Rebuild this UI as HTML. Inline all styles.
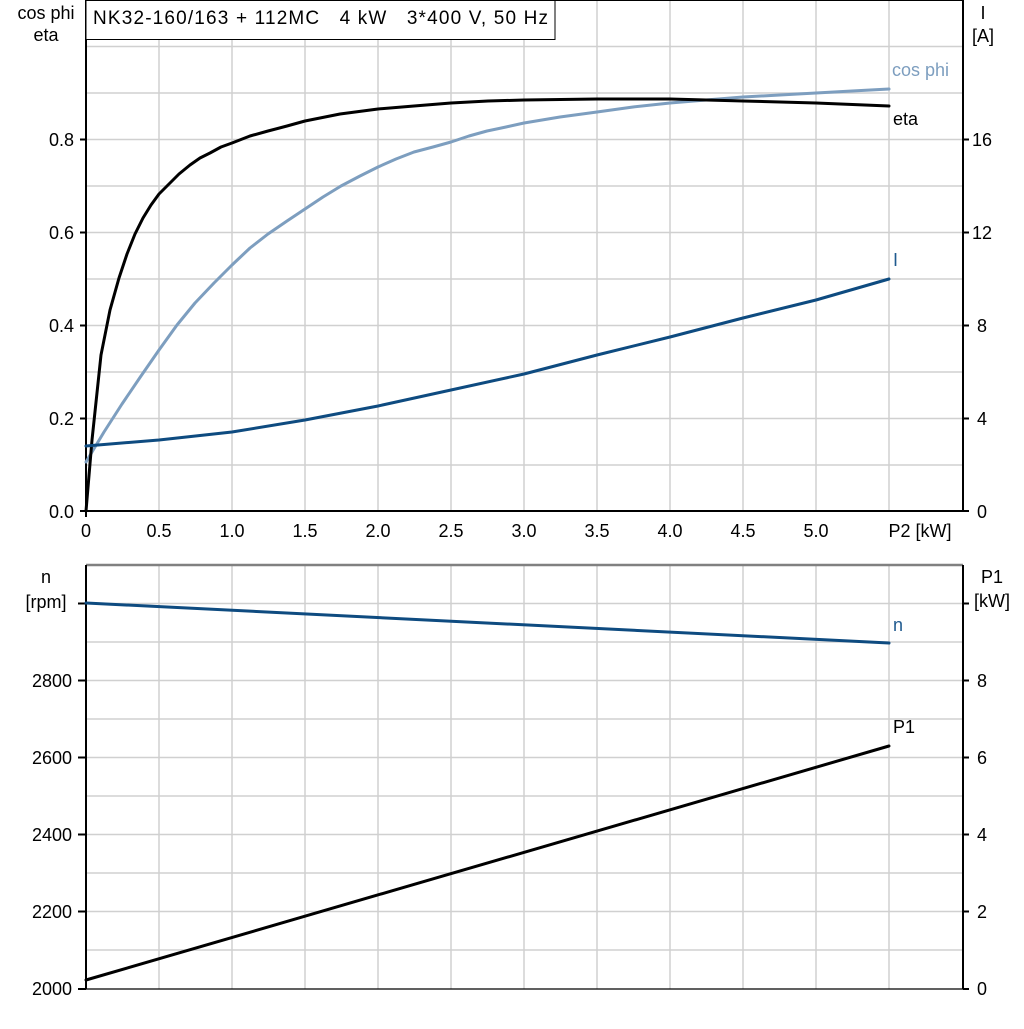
<!DOCTYPE html>
<html><head><meta charset="utf-8"><style>
body{margin:0;background:#fff}
svg text{font-family:"Liberation Sans",Arial,sans-serif;font-size:18px;white-space:pre}
</style></head><body>
<svg width="1024" height="1024" viewBox="0 0 1024 1024" xmlns="http://www.w3.org/2000/svg">
<rect width="1024" height="1024" fill="#fff"/>
<g stroke="#d0d0d0" stroke-width="1.5" fill="none">
<path d="M159 0V511M232 0V511M305 0V511M378 0V511M451 0V511M524 0V511M597 0V511M670 0V511M743 0V511M816 0V511M889 0V511"/>
<path d="M86 46.5H963M86 93H963M86 139.5H963M86 186H963M86 232.5H963M86 279H963M86 325.5H963M86 372H963M86 418.5H963M86 465H963"/>
<path d="M159 565V989M232 565V989M305 565V989M378 565V989M451 565V989M524 565V989M597 565V989M670 565V989M743 565V989M816 565V989M889 565V989"/>
<path d="M86 603.5H963M86 642H963M86 680.5H963M86 719H963M86 757.5H963M86 796H963M86 834.5H963M86 873H963M86 911.5H963M86 950H963"/>
</g>
<path d="M86 0.5H963" stroke="#000" stroke-width="1"/>
<path d="M86 0V512M85 511H964M963 0V512" stroke="#000" stroke-width="2" fill="none"/>
<g stroke="#000" stroke-width="2">
<path d="M80 511H86M80 418.5H86M80 325.5H86M80 232.5H86M80 139.5H86"/>
<path d="M963 511H969M963 418.5H969M963 325.5H969M963 232.5H969M963 139.5H969"/>
<path d="M86 511V517"/>
</g>
<path d="M86 565H963" stroke="#808080" stroke-width="2.5"/>
<path d="M86 565V989M963 565V989" stroke="#000" stroke-width="2" fill="none"/>
<path d="M86 989H963" stroke="#000" stroke-width="1.2"/>
<g stroke="#000" stroke-width="2">
<path d="M78 989H86M78 911.5H86M78 834.5H86M78 757.5H86M78 680.5H86M78 603.5H86"/>
<path d="M963 989H969M963 911.5H969M963 834.5H969M963 757.5H969M963 680.5H969M963 603.5H969"/>
</g>
<rect x="86" y="0.5" width="469" height="39" fill="#fff" stroke="#000" stroke-width="1"/>
<text x="93" y="24" xml:space="preserve" style="font-size:19px" textLength="455" lengthAdjust="spacing">NK32-160/163 + 112MC   4 kW   3*400 V, 50 Hz</text>
<g text-anchor="end">
<text x="74" y="518">0.0</text><text x="74" y="425">0.2</text><text x="74" y="332">0.4</text><text x="74" y="239">0.6</text><text x="74" y="146">0.8</text>
<text x="72" y="995">2000</text><text x="72" y="918">2200</text><text x="72" y="841">2400</text><text x="72" y="764">2600</text><text x="72" y="687">2800</text>
</g>
<text x="46" y="19" text-anchor="middle">cos phi</text><text x="46" y="41" text-anchor="middle">eta</text>
<text x="46" y="583" text-anchor="middle">n</text><text x="46" y="608" text-anchor="middle">[rpm]</text>
<g text-anchor="start">
<text x="977" y="518">0</text><text x="977" y="425">4</text><text x="977" y="332">8</text><text x="972" y="239">12</text><text x="972" y="146">16</text>
<text x="977" y="995">0</text><text x="977" y="918">2</text><text x="977" y="841">4</text><text x="977" y="764">6</text><text x="977" y="687">8</text>
</g>
<text x="983" y="19" text-anchor="middle">I</text><text x="983" y="42" text-anchor="middle">[A]</text>
<text x="992" y="583" text-anchor="middle">P1</text><text x="992" y="607" text-anchor="middle">[kW]</text>
<g text-anchor="middle">
<text x="86" y="537">0</text><text x="159" y="537">0.5</text><text x="232" y="537">1.0</text><text x="305" y="537">1.5</text><text x="378" y="537">2.0</text><text x="451" y="537">2.5</text><text x="524" y="537">3.0</text><text x="597" y="537">3.5</text><text x="670" y="537">4.0</text><text x="743" y="537">4.5</text><text x="816" y="537">5.0</text><text x="920" y="537">P2 [kW]</text>
</g>
<g fill="none" stroke-width="3" stroke-linejoin="round" stroke-linecap="round">
<path stroke="#7d9ebf" d="M86 462 L104 432 L122 404 L141 376 L159 350 L177 325 L195 303 L214 283 L232 265 L250 248 L268 234 L287 221 L305 209 L323 197 L341 186 L360 176 L378 167 L396 159 L414 152 L433 147 L451 142 L469 136 L487 131 L506 127 L524 123 L560 117 L597 112 L633 107 L670 103 L706 100 L743 97 L780 95 L816 93 L852 91 L889 89"/>
<path stroke="#000" d="M86 511 L92 440 L101 355 L110 310 L119 278 L127 254 L135 234 L143 218 L151 205 L159 194 L168 185 L179 174 L190 165 L200 158 L210 153 L221 147 L232 143 L250 136 L268 131 L287 126 L305 121 L340 114 L378 109 L414 106 L451 103 L488 101 L524 100 L597 99 L670 99 L743 101 L816 103 L889 106"/>
<path stroke="#0e4b80" d="M86 446 L159 440 L232 432 L305 420 L378 406 L451 390 L524 374 L597 355 L670 337 L743 318 L816 300 L889 279"/>
<path stroke="#0e4b80" d="M86 603 L889 643"/>
<path stroke="#000" d="M86 980 L889 746"/>
</g>
<text x="892" y="76" fill="#7d9ebf">cos phi</text>
<text x="893" y="125" fill="#000">eta</text>
<text x="893" y="266" fill="#1f5a8f">I</text>
<text x="893" y="631" fill="#1f5a8f">n</text>
<text x="893" y="733" fill="#000">P1</text>
</svg>
</body></html>
